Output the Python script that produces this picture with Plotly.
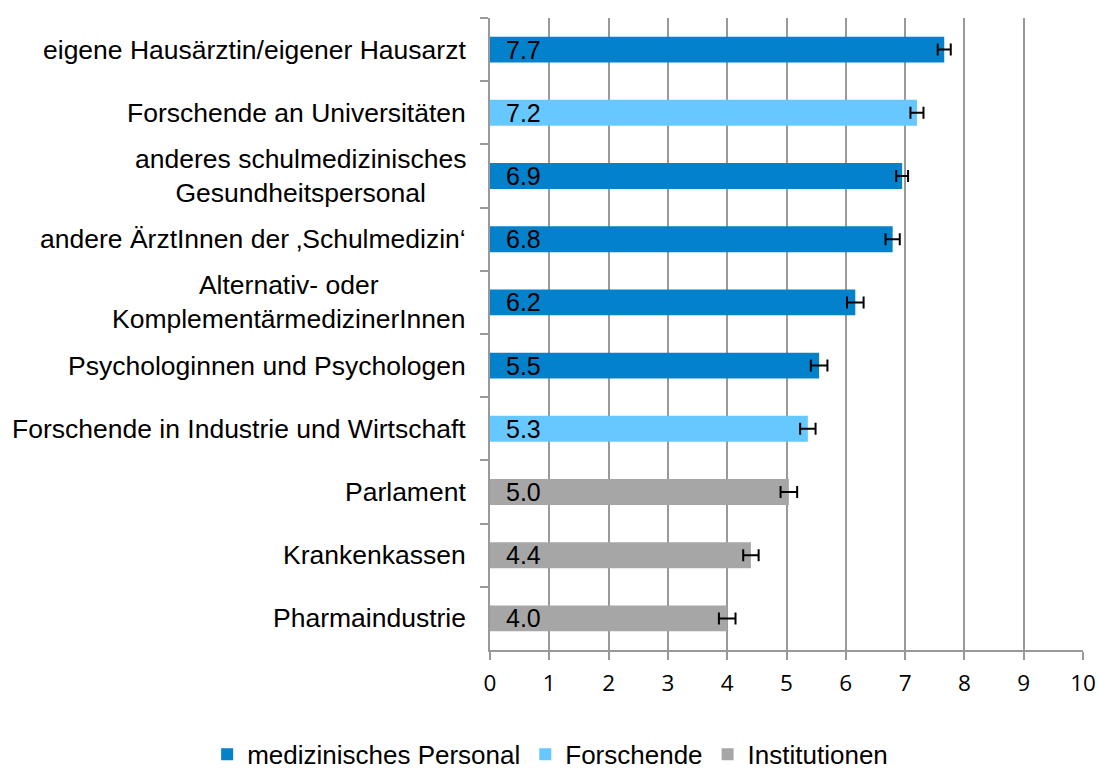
import plotly.graph_objects as go

categories = [
    "eigene Hausärztin/eigener Hausarzt",
    "Forschende an Universitäten",
    "anderes schulmedizinisches<br>Gesundheitspersonal",
    "andere ÄrztInnen der ‚Schulmedizin‘",
    "Alternativ- oder<br>KomplementärmedizinerInnen",
    "Psychologinnen und Psychologen",
    "Forschende in Industrie und Wirtschaft",
    "Parlament",
    "Krankenkassen",
    "Pharmaindustrie",
]
values = [7.66, 7.20, 6.95, 6.79, 6.16, 5.55, 5.36, 5.04, 4.40, 4.00]
errors = [0.11, 0.11, 0.10, 0.12, 0.14, 0.14, 0.13, 0.14, 0.13, 0.14]
labels = ["7.7", "7.2", "6.9", "6.8", "6.2", "5.5", "5.3", "5.0", "4.4", "4.0"]
groups = ["medizinisches Personal", "Forschende", "medizinisches Personal",
          "medizinisches Personal", "medizinisches Personal", "medizinisches Personal",
          "Forschende", "Institutionen", "Institutionen", "Institutionen"]
group_order = ["medizinisches Personal", "Forschende", "Institutionen"]
group_colors = {"medizinisches Personal": "#0381CA", "Forschende": "#66C8FF",
                "Institutionen": "#A6A6A6"}
x_ticks = list(range(0, 11))

FONT = "Liberation Sans, Arial, sans-serif"
GRID = "#999999"

fig = go.Figure()
for g in group_order:
    idx = [i for i, gg in enumerate(groups) if gg == g]
    fig.add_trace(go.Bar(
        orientation="h",
        name=g,
        y=[categories[i] for i in idx],
        x=[values[i] for i in idx],
        marker=dict(color=group_colors[g], line=dict(width=0)),
        width=0.41,
        error_x=dict(type="data", array=[errors[i] for i in idx], symmetric=True,
                     color="black", thickness=2, width=6),
    ))

# value labels inside bars
for c, lab in zip(categories, labels):
    fig.add_annotation(x=0, y=c, xref="x", yref="y", text=lab, showarrow=False,
                       xanchor="left", xshift=14, font=dict(family=FONT, size=25, color="black"))

# category labels (centered multi-line, right-aligned block)
for c in categories:
    fig.add_annotation(x=0, y=c, xref="paper", yref="y", text=c, showarrow=False,
                       xanchor="right", xshift=-22, align="center",
                       font=dict(family=FONT, size=26.5, color="black"))

fig.update_layout(
    width=1100, height=772,
    margin=dict(l=490, r=17, t=18, b=122, autoexpand=False),
    paper_bgcolor="white", plot_bgcolor="white",
    barmode="overlay",
    showlegend=True,
    legend=dict(orientation="h", xref="paper", yref="paper",
                x=-0.477, xanchor="left", y=-0.165, yanchor="middle",
                font=dict(family=FONT, size=26, color="black"), itemwidth=30,
                traceorder="normal"),
    font=dict(family=FONT, color="black"),
)
fig.update_xaxes(
    range=[0, 10], tickvals=x_ticks, ticktext=[str(t) for t in x_ticks],
    showgrid=True, gridcolor=GRID, gridwidth=2,
    showline=True, linecolor=GRID, linewidth=2,
    ticks="outside", ticklen=8, tickwidth=2, tickcolor=GRID,
    zeroline=False, automargin=False, ticklabelstandoff=4,
    tickfont=dict(family="Open Sans, sans-serif", size=22.5, color="black"),
)
fig.update_yaxes(
    categoryorder="array", categoryarray=categories, autorange="reversed",
    showgrid=False, showline=True, linecolor=GRID, linewidth=2,
    ticks="outside", ticklen=8, tickwidth=2, tickcolor=GRID, tickson="boundaries",
    showticklabels=False, zeroline=False, automargin=False,
)

fig.write_html("out.html", config={"displayModeBar": False},
               post_script="document.body.style.margin='0';")
